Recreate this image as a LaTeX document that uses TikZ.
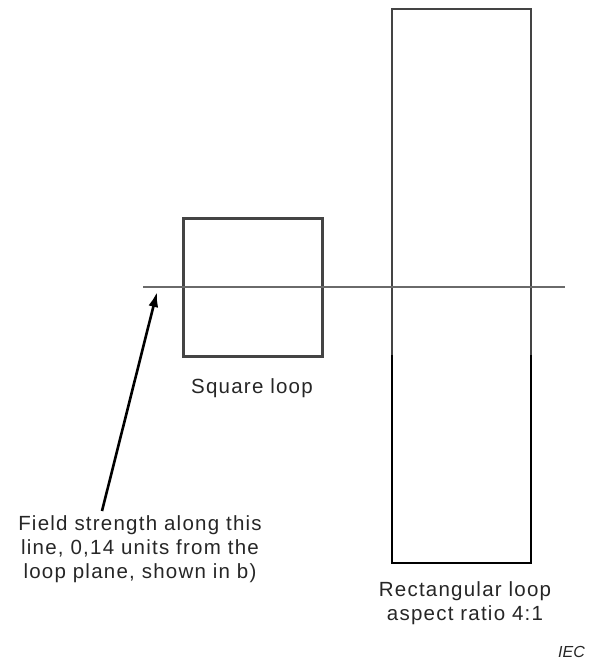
\documentclass[tikz,border=0pt]{standalone}
\usepackage{fontspec}
\setmainfont{Liberation Sans}
\newfontfamily\lab{Liberation Sans}[LetterSpace=6]
\usetikzlibrary{arrows.meta}
\definecolor{txt}{HTML}{262626}
\definecolor{axis}{HTML}{6A6A6A}
\definecolor{loopgray}{HTML}{444444}
\begin{document}
\begin{tikzpicture}[x=1pt,y=-1pt,
  label/.style={inner sep=0pt, text=txt, align=center, font=\lab\fontsize{20.5}{23.7}\selectfont},
  axisline/.style={draw=axis, line width=1.5pt},
  loopline/.style={draw=loopgray, line width=2.8pt},
  loopblack/.style={draw=black, line width=2.6pt},
  pointer/.style={draw=black, line width=2.6pt, -{Latex[length=15pt,width=10pt]}}]
\useasboundingbox (0,0) rectangle (589,661);
% square loop
\draw[loopline, line width=3pt] (183,218) rectangle (322,356);
% rectangular loop
\coordinate (rtl) at (392,9);
\coordinate (rtr) at (531,9);
\coordinate (rml) at (392,355);
\coordinate (rmr) at (531,355);
\coordinate (rbl) at (392,563);
\coordinate (rbr) at (531,563);
\draw[loopline, line cap=rect] (rml) -- (rtl) -- (rtr) -- (rmr);
\draw[loopblack] (rml) -- (rbl) -- (rbr) -- (rmr);
% field line
\coordinate (L) at (143,287);
\coordinate (R) at (565,287);
\draw[axisline] (L) -- (R);
% labels
\node[label, anchor=base] (sq) at (252,393) {Square loop};
\node[label, anchor=base] (rect) at (465,620.5) {Rectangular loop\\aspect ratio 4:1};
\node[label, anchor=base] (field) at (140,578) {Field strength along this\\line, 0,14 units from the\\loop plane, shown in b)};
\node[inner sep=0pt, text=txt, anchor=base east, font=\fontsize{16}{18}\selectfont\itshape] (iec) at (585,657) {IEC};
% pointer
\coordinate (tail) at (102,511);
\coordinate (tip) at (157,292);
\draw[pointer] (tail) -- (tip);
\end{tikzpicture}
\end{document}
